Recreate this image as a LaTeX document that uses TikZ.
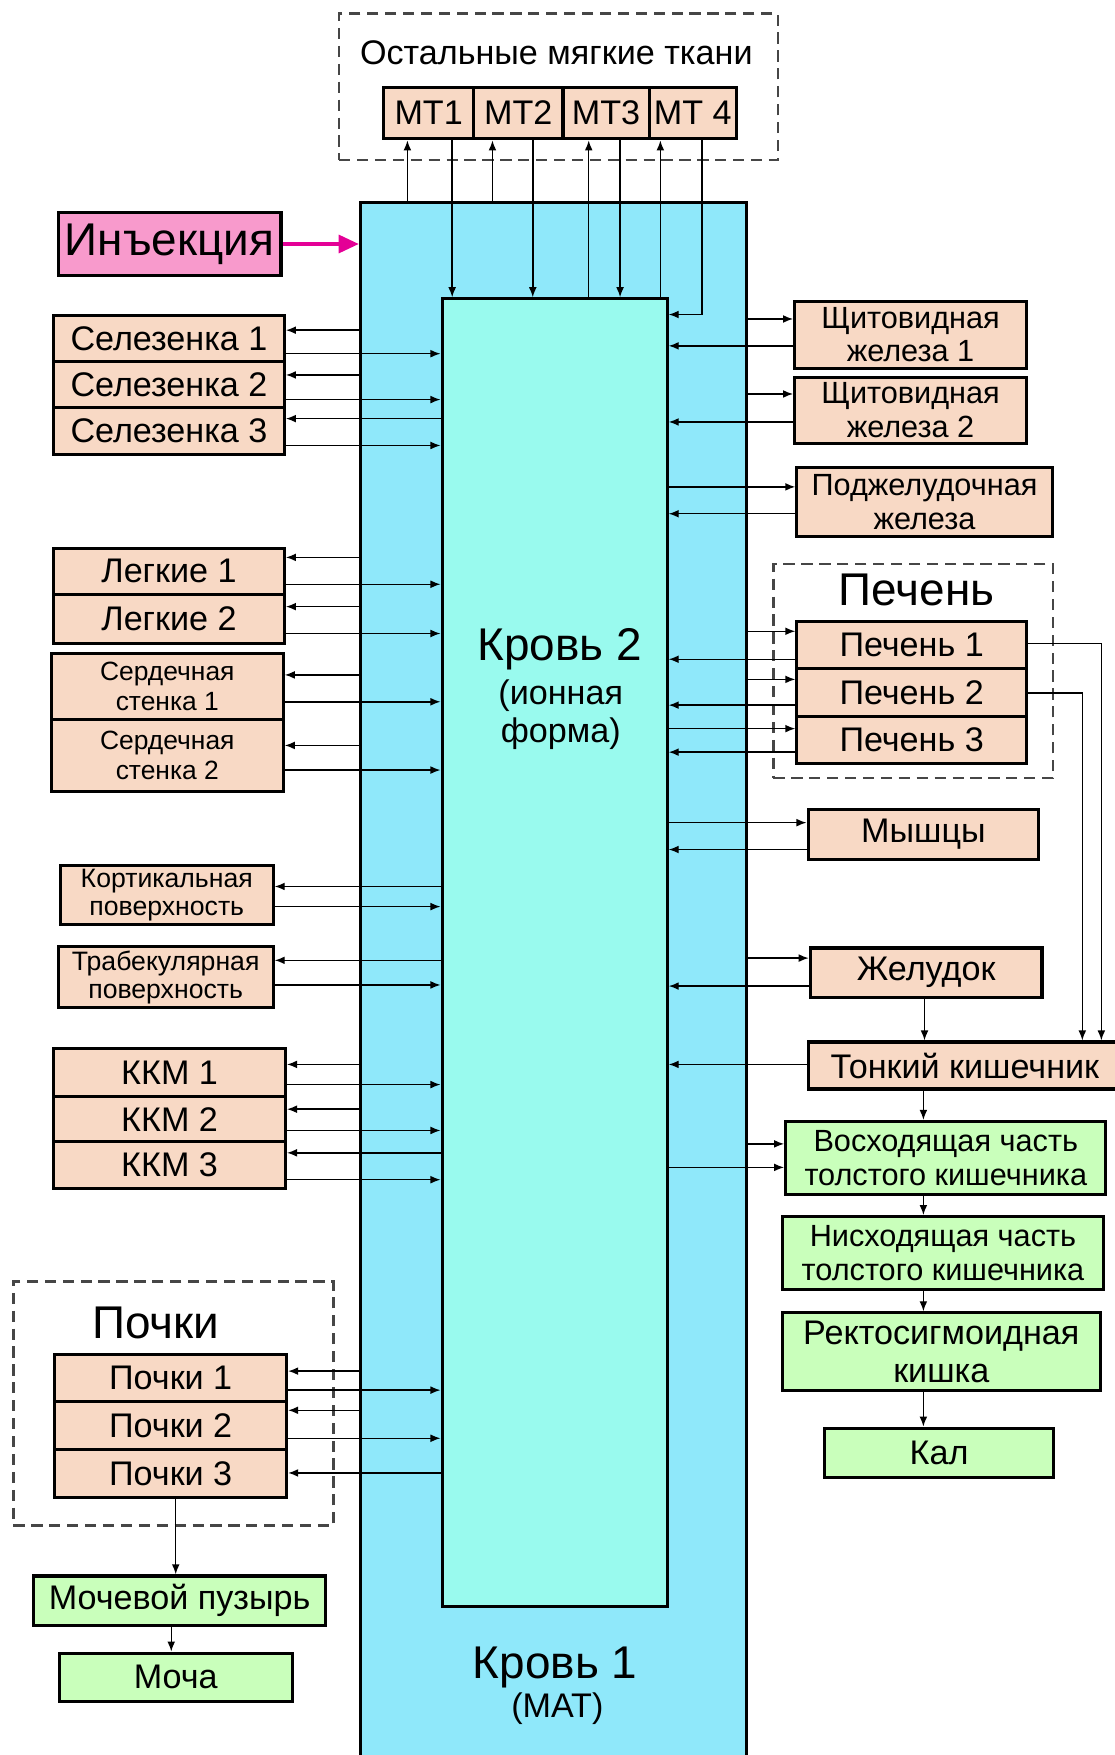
\documentclass[tikz,border=0pt]{standalone}
\usepackage{fontspec}
\setmainfont{Liberation Sans}
\usetikzlibrary{arrows.meta}

\definecolor{peach}{RGB}{248,217,197}
\definecolor{lgreen}{RGB}{201,255,187}
\definecolor{pinkbox}{RGB}{248,154,204}
\definecolor{injarrow}{RGB}{228,0,150}
\definecolor{bloodA}{RGB}{143,232,250}
\definecolor{bloodB}{RGB}{153,250,238}
\definecolor{dashgray}{RGB}{70,70,70}

\tikzset{
  organ/.style={draw, line width=2.8pt, fill=peach, inner sep=0pt, align=center},
  gut/.style={organ, fill=lgreen},
  grp/.style={draw=dashgray, dash pattern=on 10pt off 6pt, line width=2pt, inner sep=0pt},
  arr/.style={-{Latex[length=9pt,width=7pt]}, line width=1.3pt},
  huge40/.style={font=\fontsize{41}{44}\selectfont},
  norm30/.style={font=\fontsize{30.5}{34}\selectfont},
  two26/.style={font=\fontsize{27.4}{30}\selectfont},
  two23/.style={font=\fontsize{23.6}{27}\selectfont},
  two22/.style={font=\fontsize{23.8}{25}\selectfont}
}

\begin{document}
\begin{tikzpicture}[x=1pt,y=-1pt]
\useasboundingbox (0,0) rectangle (996,1568);

% blood
\node[draw, line width=2.8pt, fill=bloodA, inner sep=0pt, minimum width=345pt, minimum height=1440pt] (b1) at (494.5,901) {};
\node[draw, line width=2.8pt, fill=bloodB, inner sep=0pt, minimum width=201pt, minimum height=1168pt] (b2) at (495.5,851) {};
\node[huge40] (b2lbl) at (500,580) {Кровь 2};
\node[norm30, align=center] (b2sub) at (501,638.5) {(ионная\\форма)};
\node[huge40] (b1lbl) at (496,1490) {Кровь 1};
\node[norm30] (b1sub) at (498,1527) {(МАТ)};

% soft tissues
\node[grp, minimum width=392pt, minimum height=131pt] (softgrp) at (499,77.5) {};
\node[norm30] (softlbl) at (497,47) {Остальные мягкие ткани};
\node[organ, norm30, minimum width=80pt, minimum height=46pt] (mt1) at (383,101) {МТ1};
\node[organ, norm30, minimum width=80pt, minimum height=46pt] (mt2) at (463,101) {МТ2};
\node[organ, norm30, minimum width=77pt, minimum height=46pt] (mt3) at (541.5,101) {МТ3};
\node[organ, norm30, minimum width=78pt, minimum height=46pt] (mt4) at (619,101) {МТ 4};

% injection
\node[organ, fill=pinkbox, huge40, minimum width=199pt, minimum height=56pt] (inj) at (151.5,218) {Инъекция};

% left organs
\node[organ, norm30, minimum width=206pt, minimum height=41pt] (sel1) at (151,302.5) {Селезенка 1};
\node[organ, norm30, minimum width=206pt, minimum height=41pt] (sel2) at (151,343.5) {Селезенка 2};
\node[organ, norm30, minimum width=206pt, minimum height=42pt] (sel3) at (151,385) {Селезенка 3};
\node[organ, norm30, minimum width=206pt, minimum height=41pt] (lung1) at (151,510.5) {Легкие 1};
\node[organ, norm30, minimum width=206pt, minimum height=44pt] (lung2) at (151,553) {Легкие 2};
\node[organ, two23, minimum width=207pt, minimum height=59pt] (heart1) at (149.5,613.5) {Сердечная\\стенка 1};
\node[organ, two23, minimum width=207pt, minimum height=64pt] (heart2) at (149.5,675) {Сердечная\\стенка 2};
\node[organ, two22, minimum width=190pt, minimum height=53pt] (cort) at (149,799.5) {Кортикальная\\поверхность};
\node[organ, two22, minimum width=192pt, minimum height=54pt] (trab) at (148,873) {Трабекулярная\\поверхность};
\node[organ, norm30, minimum width=207pt, minimum height=43pt] (kkm1) at (151.5,958.5) {ККМ 1};
\node[organ, norm30, minimum width=207pt, minimum height=40pt] (kkm2) at (151.5,1000) {ККМ 2};
\node[organ, norm30, minimum width=207pt, minimum height=42pt] (kkm3) at (151.5,1041) {ККМ 3};

% kidneys
\node[grp, minimum width=286pt, minimum height=218pt] (kidgrp) at (155,1254) {};
\node[huge40] (kidlbl) at (139,1182) {Почки};
\node[organ, norm30, minimum width=207pt, minimum height=42pt] (kid1) at (152.5,1231) {Почки 1};
\node[organ, norm30, minimum width=207pt, minimum height=43pt] (kid2) at (152.5,1273.5) {Почки 2};
\node[organ, norm30, minimum width=207pt, minimum height=43pt] (kid3) at (152.5,1316.5) {Почки 3};
\node[gut, norm30, minimum width=261pt, minimum height=44pt] (bladder) at (160.5,1430) {Мочевой пузырь};
\node[gut, norm30, minimum width=208pt, minimum height=43pt] (urine) at (157,1498.5) {Моча};

% right organs
\node[organ, two26, minimum width=207pt, minimum height=60pt] (thy1) at (813.5,299) {Щитовидная\\железа 1};
\node[organ, two26, minimum width=207pt, minimum height=59pt] (thy2) at (813.5,366.5) {Щитовидная\\железа 2};
\node[organ, two26, minimum width=228pt, minimum height=61pt] (panc) at (826,448.5) {Поджелудочная\\железа};
\node[grp, minimum width=250pt, minimum height=191pt] (livgrp) at (816,599.5) {};
\node[huge40] (livlbl) at (819,527) {Печень};
\node[organ, norm30, minimum width=205pt, minimum height=42pt] (liv1) at (814.5,576) {Печень 1};
\node[organ, norm30, minimum width=205pt, minimum height=43pt] (liv2) at (814.5,618.5) {Печень 2};
\node[organ, norm30, minimum width=205pt, minimum height=42pt] (liv3) at (814.5,661) {Печень 3};
\node[organ, norm30, minimum width=206pt, minimum height=45pt] (mus) at (825,745.5) {Мышцы};
\node[organ, norm30, minimum width=207pt, minimum height=44pt] (stom) at (827.5,869) {Желудок};
\node[organ, norm30, minimum width=280pt, minimum height=42pt] (small) at (862,952) {Тонкий кишечник};
\node[gut, two26, minimum width=286pt, minimum height=65pt] (asc) at (845,1034.5) {Восходящая часть\\толстого кишечника};
\node[gut, two26, minimum width=287pt, minimum height=65pt] (desc) at (842.5,1119.5) {Нисходящая часть\\толстого кишечника};
\node[gut, norm30, minimum width=284pt, minimum height=69pt] (rect) at (841,1207.5) {Ректосигмоидная\\кишка};
\node[gut, norm30, minimum width=204pt, minimum height=44pt] (feces) at (839,1298) {Кал};

% injection arrow
\draw[-{Triangle[length=18pt,width=16pt]}, injarrow, line width=3pt] (inj.east) -- (b1.west |- inj.east);

% soft tissue exchange
\draw[arr] (b1.north -| 364,0) -- (mt1.south -| 364,0);
\draw[arr] (mt1.south -| 404,0) -- (b2.north -| 404,0);
\draw[arr] (b1.north -| 440,0) -- (mt2.south -| 440,0);
\draw[arr] (mt2.south -| 476,0) -- (b2.north -| 476,0);
\draw[arr] (b2.north -| 526,0) -- (mt3.south -| 526,0);
\draw[arr] (mt3.south -| 554,0) -- (b2.north -| 554,0);
\draw[arr] (b2.north -| 590,0) -- (mt4.south -| 590,0);
\draw[arr] (mt4.south -| 627,0) |- (b2.east |- 0,281);

% left side
\draw[arr] (b1.west |- 0,295) -- (sel1.east |- 0,295);
\draw[arr] (sel1.east |- 0,316) -- (b2.west |- 0,316);
\draw[arr] (b1.west |- 0,335) -- (sel2.east |- 0,335);
\draw[arr] (sel2.east |- 0,357) -- (b2.west |- 0,357);
\draw[arr] (b2.west |- 0,374) -- (sel3.east |- 0,374);
\draw[arr] (sel3.east |- 0,398) -- (b2.west |- 0,398);
\draw[arr] (b1.west |- 0,498) -- (lung1.east |- 0,498);
\draw[arr] (lung1.east |- 0,522) -- (b2.west |- 0,522);
\draw[arr] (b1.west |- 0,542) -- (lung2.east |- 0,542);
\draw[arr] (lung2.east |- 0,566) -- (b2.west |- 0,566);
\draw[arr] (b1.west |- 0,603) -- (heart1.east |- 0,603);
\draw[arr] (heart1.east |- 0,627) -- (b2.west |- 0,627);
\draw[arr] (b1.west |- 0,666) -- (heart2.east |- 0,666);
\draw[arr] (heart2.east |- 0,688) -- (b2.west |- 0,688);
\draw[arr] (b2.west |- 0,792) -- (cort.east |- 0,792);
\draw[arr] (cort.east |- 0,810) -- (b2.west |- 0,810);
\draw[arr] (b2.west |- 0,858) -- (trab.east |- 0,858);
\draw[arr] (trab.east |- 0,880) -- (b2.west |- 0,880);
\draw[arr] (b1.west |- 0,951) -- (kkm1.east |- 0,951);
\draw[arr] (kkm1.east |- 0,969) -- (b2.west |- 0,969);
\draw[arr] (b1.west |- 0,991) -- (kkm2.east |- 0,991);
\draw[arr] (kkm2.east |- 0,1010) -- (b2.west |- 0,1010);
\draw[arr] (b2.west |- 0,1030) -- (kkm3.east |- 0,1030);
\draw[arr] (kkm3.east |- 0,1054) -- (b2.west |- 0,1054);
\draw[arr] (b1.west |- 0,1225) -- (kid1.east |- 0,1225);
\draw[arr] (kid1.east |- 0,1242) -- (b2.west |- 0,1242);
\draw[arr] (b1.west |- 0,1260) -- (kid2.east |- 0,1260);
\draw[arr] (kid2.east |- 0,1285) -- (b2.west |- 0,1285);
\draw[arr] (b2.west |- 0,1316) -- (kid3.east |- 0,1316);
\draw[arr] (kid3.south -| 157,0) -- (bladder.north -| 157,0);
\draw[arr] (bladder.south -| 153,0) -- (urine.north -| 153,0);

% right side
\draw[arr] (b1.east |- 0,285) -- (thy1.west |- 0,285);
\draw[arr] (thy1.west |- 0,309) -- (b2.east |- 0,309);
\draw[arr] (b1.east |- 0,352) -- (thy2.west |- 0,352);
\draw[arr] (thy2.west |- 0,377) -- (b2.east |- 0,377);
\draw[arr] (b2.east |- 0,435) -- (panc.west |- 0,435);
\draw[arr] (panc.west |- 0,459) -- (b2.east |- 0,459);
\draw[arr] (b1.east |- 0,564) -- (liv1.west |- 0,564);
\draw[arr] (liv1.west |- 0,589) -- (b2.east |- 0,589);
\draw[arr] (b1.east |- 0,607) -- (liv2.west |- 0,607);
\draw[arr] (liv2.west |- 0,630) -- (b2.east |- 0,630);
\draw[arr] (b2.east |- 0,651) -- (liv3.west |- 0,651);
\draw[arr] (liv3.west |- 0,672) -- (b2.east |- 0,672);
\draw[arr] (liv1.east |- 0,575) -| (small.north -| 984,0);
\draw[arr] (liv2.east |- 0,619) -| (small.north -| 967,0);
\draw[arr] (b2.east |- 0,735) -- (mus.west |- 0,735);
\draw[arr] (mus.west |- 0,759) -- (b2.east |- 0,759);
\draw[arr] (b1.east |- 0,856) -- (stom.west |- 0,856);
\draw[arr] (stom.west |- 0,881) -- (b2.east |- 0,881);
\draw[arr] (stom.south -| 826,0) -- (small.north -| 826,0);
\draw[arr] (small.west |- 0,951) -- (b2.east |- 0,951);
\draw[arr] (small.south -| 825,0) -- (asc.north -| 825,0);
\draw[arr] (b1.east |- 0,1022) -- (asc.west |- 0,1022);
\draw[arr] (b2.east |- 0,1043) -- (asc.west |- 0,1043);
\draw[arr] (asc.south -| 825,0) -- (desc.north -| 825,0);
\draw[arr] (desc.south -| 825,0) -- (rect.north -| 825,0);
\draw[arr] (rect.south -| 825,0) -- (feces.north -| 825,0);
\end{tikzpicture}
\end{document}
